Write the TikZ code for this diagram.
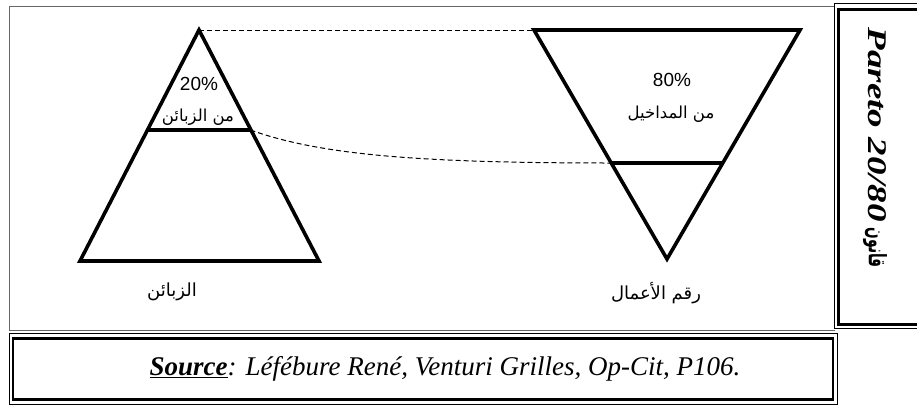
\documentclass[tikz,border=0pt]{standalone}
\usepackage{graphicx}
\usepackage{fontspec}
\setmainfont{Liberation Serif}
\newfontfamily\arialfont{Liberation Sans}
\newfontfamily\arabicfont[Script=Arabic]{DejaVu Sans}
\TeXXeTstate=1
\begin{document}
\begin{tikzpicture}[x=1pt,y=-1pt,
  tri/.style={line width=3.6pt, line join=miter},
  cut/.style={line width=3.6pt},
  link/.style={line width=1pt, dash pattern=on 5pt off 3pt},
  pct/.style={font=\arialfont\fontsize{19}{22}\selectfont, inner sep=0pt},
  artxt/.style={font=\arabicfont\fontsize{16.5}{19}\selectfont, inner sep=0pt},
  arlab/.style={font=\arabicfont\fontsize{18}{21}\selectfont, inner sep=0pt},
  frameout/.style={line width=0.8pt},
  framein/.style={line width=2.8pt}]
\useasboundingbox (0,0) rectangle (917,405);
\begin{scope}
\clip (0,0) rectangle (917,405);
% main box
\draw[gray!80!black, line width=1pt] (835,6) -- (9,6) -- (9,330) -- (835,330);
% pareto box
\draw[frameout] (925,3.5) -- (834.5,3.5) -- (834.5,328.5) -- (925,328.5);
\draw[framein] (930,9.5) -- (838.5,9.5) -- (838.5,324.5) -- (930,324.5);
% source box
\draw[frameout] (9,333.5) rectangle (837,404);
\draw[framein] (13,338.5) rectangle (833,399.5);
\end{scope}
% left triangle
\coordinate (A) at (199,30);
\coordinate (B) at (80,261);
\coordinate (C) at (319,261);
\coordinate (L1) at (147.5,130);
\coordinate (L2) at (250.5,130);
\draw[tri] (A) -- (B) -- (C) -- cycle;
\draw[cut] (L1) -- (L2);
% right inverted triangle
\coordinate (D) at (534,30);
\coordinate (E) at (800,30);
\coordinate (F) at (667,259);
\coordinate (R1) at (611.5,163);
\coordinate (R2) at (722.5,163);
\draw[tri] (D) -- (E) -- (F) -- cycle;
\draw[cut] (R1) -- (R2);
% dashed links
\draw[link] (A) -- (D);
\draw[link] (L2) .. controls (320,155) and (420,163) .. (R1);
% texts
\node[pct] (p20) at (199,84) {20\%};
\node[artxt] (t20) at (198,117) {\beginR من الزبائن\endR};
\node[pct] (p80) at (672,80) {80\%};
\node[artxt] (t80) at (671,114) {\beginR من المداخيل\endR};
\node[arlab] (lz) at (172,292) {\beginR الزبائن\endR};
\node[arlab] (lr) at (656,293) {\beginR رقم الأعمال\endR};
\node[inner sep=0pt, font=\fontsize{27}{30}\selectfont\itshape] (src) at (445,369)
  {\underline{\textbf{Source}}: Léfébure René, Venturi Grilles, Op-Cit, P106.};
\node[inner sep=0pt, rotate=-90, anchor=center] (par) at (875,147.5)
  {\scalebox{1.37}[1]{\fontsize{27}{30}\selectfont\bfseries\itshape Pareto 20/80}\hspace{6pt}\scalebox{0.57}[1]{\arabicfont\bfseries\fontsize{24}{27}\selectfont\beginR قانون\endR}};
\end{tikzpicture}
\end{document}
